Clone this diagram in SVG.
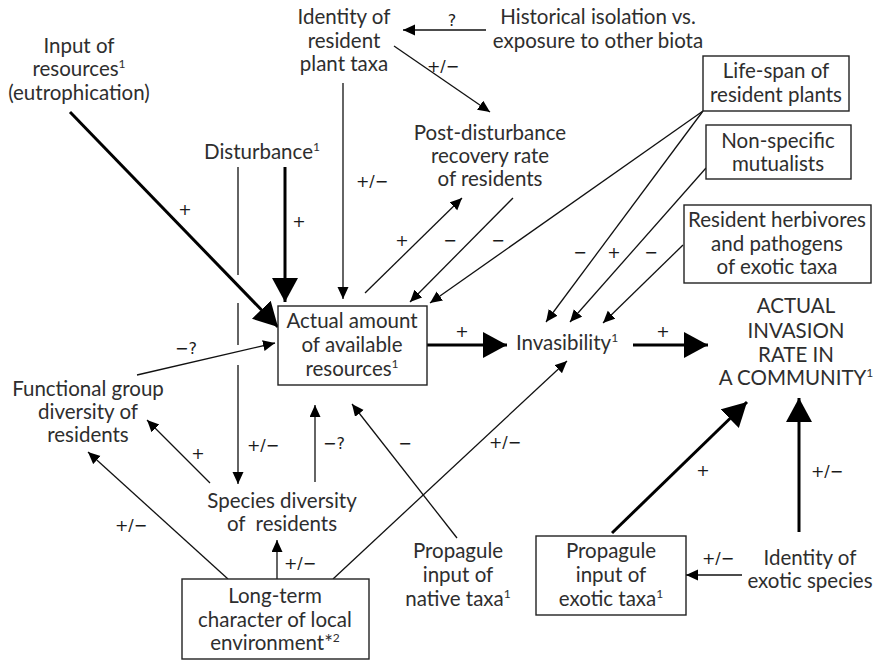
<svg xmlns="http://www.w3.org/2000/svg" width="878" height="661" viewBox="0 0 878 661">
<defs>
<style>
text{font-family:Lato,"Open Sans","DejaVu Sans",sans-serif;font-size:20.5px;fill:#2e2e2e;text-anchor:middle}
.lbl{font-family:"DejaVu Sans",sans-serif;font-size:16px;fill:#1a1a1a}
.box{fill:#fff;stroke:#222;stroke-width:1.4}
.thin{fill:none;stroke:#111;stroke-width:1.3;marker-end:url(#ah)}
.thick{fill:none;stroke:#000;stroke-width:3;marker-end:url(#ahb)}
.sup{font-size:12px}
</style>
<marker id="ah" markerUnits="userSpaceOnUse" markerWidth="13" markerHeight="12" refX="12" refY="5.5" orient="auto"><path d="M0,0 L12,5.5 L0,11 z" fill="#000"/></marker>
<marker id="ahb" markerUnits="userSpaceOnUse" markerWidth="25" markerHeight="27" refX="24" refY="13" orient="auto"><path d="M0,0 L24,13 L0,26 z" fill="#000"/></marker>
</defs>
<g id="connectors">
<path class="thin" d="M486,30 L403,30"/><text class="lbl" x="452" y="26">?</text>
<path class="thin" d="M394,46 L490,112"/><text class="lbl" x="443" y="72">+/−</text>
<path class="thin" d="M343,83 L343,299"/><text class="lbl" x="372" y="187">+/−</text>
<path class="thick" d="M70,112 L278,327"/><text class="lbl" x="185" y="215">+</text>
<path class="thick" d="M285,167 L285,302"/><text class="lbl" x="299" y="227">+</text>
<path class="thin" d="M238,167 V275 M238,303 V345 M238,365 V484"/><text class="lbl" x="263" y="451">+/−</text>
<path class="thin" d="M365,293 L462,198"/><text class="lbl" x="402" y="246">+</text>
<path class="thin" d="M513,198 L410,302"/><text class="lbl" x="450" y="246">−</text>
<path class="thin" d="M703,111 L430,303"/><text class="lbl" x="498" y="246">−</text>
<path class="thin" d="M703,111 L546,322"/><text class="lbl" x="580" y="258">−</text>
<path class="thin" d="M706,168 L570,322"/><text class="lbl" x="614" y="258">+</text>
<path class="thin" d="M683,245 L603,323"/><text class="lbl" x="651" y="258">−</text>
<path class="thick" d="M427,345 L507,345"/><text class="lbl" x="462" y="337">+</text>
<path class="thick" d="M633,345 L708,345"/><text class="lbl" x="663" y="337">+</text>
<path class="thin" d="M137,375 L275,343"/><text class="lbl" x="186" y="354">−?</text>
<path class="thin" d="M315,482 L315,405"/><text class="lbl" x="334" y="449">−?</text>
<path class="thin" d="M457,538 L352,404"/><text class="lbl" x="405" y="449">−</text>
<path class="thin" d="M210,483 L147,420"/><text class="lbl" x="198" y="459">+</text>
<path class="thin" d="M277,579 L277,540"/><text class="lbl" x="300" y="569">+/−</text>
<path class="thin" d="M228,579 L88,452"/><text class="lbl" x="131" y="531">+/−</text>
<path class="thin" d="M333,579 L567,361"/><text class="lbl" x="505" y="448">+/−</text>
<path class="thick" d="M612,533 L747,402"/><text class="lbl" x="703" y="476">+</text>
<path class="thick" d="M799,532 L799,398"/><text class="lbl" x="827" y="477">+/−</text>
<path class="thin" d="M742,575 L686,575"/><text class="lbl" x="718" y="564">+/−</text>
</g>
<g id="n_input"><text x="79" y="53">Input of</text><text x="79" y="76">resources<tspan class="sup" dy="-8">1</tspan></text><text x="79" y="100">(eutrophication)</text></g>
<g id="n_identity_resident"><text x="344" y="24">Identity of</text><text x="344" y="48">resident</text><text x="344" y="71">plant taxa</text></g>
<g id="n_historical"><text x="598" y="24">Historical isolation vs.</text><text x="598" y="48">exposure to other biota</text></g>
<g id="n_postdisturbance"><text x="490" y="140">Post-disturbance</text><text x="490" y="163">recovery rate</text><text x="490" y="186">of residents</text></g>
<g id="n_disturbance"><text x="262" y="159">Disturbance<tspan class="sup" dy="-8">1</tspan></text></g>
<g id="n_lifespan"><rect class="box" x="703" y="56" width="146" height="55"/><text x="776" y="78">Life-span of</text><text x="776" y="102">resident plants</text></g>
<g id="n_mutualists"><rect class="box" x="706" y="125" width="145" height="54"/><text x="778" y="148">Non-specific</text><text x="778" y="171">mutualists</text></g>
<g id="n_herbivores"><rect class="box" x="684" y="205" width="187" height="78"/><text x="777" y="227">Resident herbivores</text><text x="777" y="251">and pathogens</text><text x="777" y="274">of exotic taxa</text></g>
<g id="n_resources"><rect class="box" x="278" y="306" width="149" height="79"/><text x="352" y="328">Actual amount</text><text x="352" y="352">of available</text><text x="352" y="376">resources<tspan class="sup" dy="-8">1</tspan></text></g>
<g id="n_invasibility"><text x="567" y="350">Invasibility<tspan class="sup" dy="-8">1</tspan></text></g>
<g id="n_invasion_rate"><text x="796" y="313">ACTUAL</text><text x="796" y="338">INVASION</text><text x="796" y="362">RATE IN</text><text x="796" y="385">A COMMUNITY<tspan class="sup" dy="-8">1</tspan></text></g>
<g id="n_functional"><text x="88" y="396">Functional group</text><text x="88" y="419">diversity of</text><text x="88" y="442">residents</text></g>
<g id="n_species"><text x="282" y="508">Species diversity</text><text x="282" y="531" xml:space="preserve">of  residents</text></g>
<g id="n_longterm"><rect class="box" x="182" y="579" width="187" height="80"/><text x="275" y="603">Long-term</text><text x="275" y="627">character of local</text><text x="275" y="650">environment*<tspan class="sup" dy="-8">2</tspan></text></g>
<g id="n_prop_native"><text x="458" y="558">Propagule</text><text x="458" y="582">input of</text><text x="458" y="606">native taxa<tspan class="sup" dy="-8">1</tspan></text></g>
<g id="n_prop_exotic"><rect class="box" x="536" y="536" width="150" height="79"/><text x="611" y="558">Propagule</text><text x="611" y="582">input of</text><text x="611" y="606">exotic taxa<tspan class="sup" dy="-8">1</tspan></text></g>
<g id="n_identity_exotic"><text x="810" y="565">Identity of</text><text x="810" y="588">exotic species</text></g>
</svg>
